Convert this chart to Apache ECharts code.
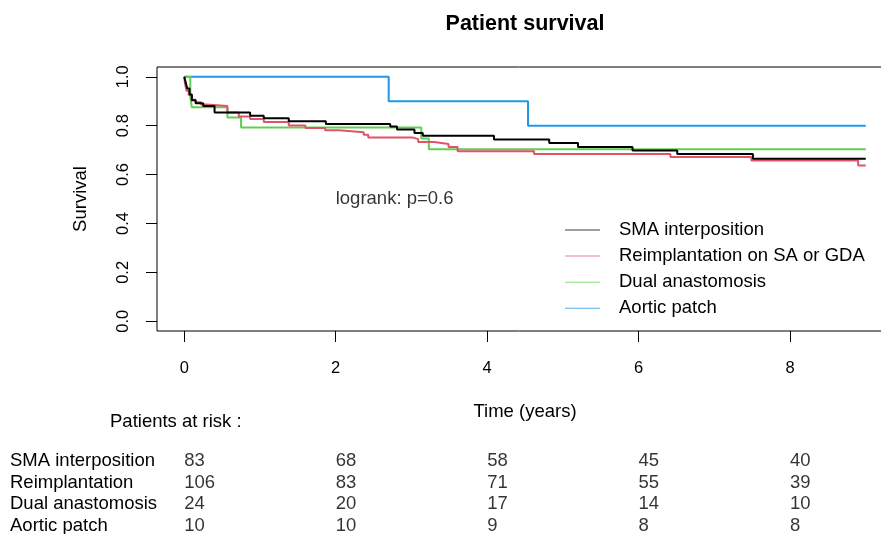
<!DOCTYPE html>
<html>
<head>
<meta charset="utf-8">
<script src="https://cdn.jsdelivr.net/npm/echarts@6/dist/echarts.min.js"></script>
<style>html,body{margin:0;padding:0;background:#fff}#c{width:881px;height:534px}</style>
</head>
<body>
<div id="c"></div>
<script>
// ---- data ----
const groupNames = ['SMA interposition', 'Reimplantation on SA or GDA', 'Dual anastomosis', 'Aortic patch'];
const riskRowNames = ['SMA interposition', 'Reimplantation', 'Dual anastomosis', 'Aortic patch'];
const groupColors = ['#000000', '#DF536B', '#61D04F', '#2297E6'];

// Kaplan-Meier steps: [time (years), survival after that time]
const smaCurve = [[0,1],[0.02,0.976],[0.04,0.952],[0.07,0.928],[0.10,0.904],[0.15,0.892],[0.25,0.880],[0.40,0.854],[0.87,0.841],[1.05,0.830],[1.38,0.818],[1.87,0.807],[2.72,0.797],[2.81,0.784],[3.04,0.770],[3.15,0.759],[4.09,0.743],[4.82,0.729],[5.20,0.713],[5.92,0.698],[6.51,0.684],[7.51,0.665],[9.0,0.665]];
const reimpCurve = [[0,1],[0.01,0.972],[0.03,0.943],[0.06,0.925],[0.10,0.906],[0.15,0.896],[0.22,0.887],[0.29,0.880],[0.57,0.854],[0.72,0.838],[0.87,0.827],[1.05,0.815],[1.38,0.801],[1.60,0.790],[1.86,0.781],[2.04,0.773],[2.37,0.763],[2.43,0.752],[3.01,0.745],[3.09,0.733],[3.30,0.725],[3.49,0.713],[3.61,0.695],[4.62,0.684],[6.42,0.672],[7.49,0.658],[8.90,0.637],[9.0,0.637]];
const dualCurve = [[0,1],[0.08,0.917],[0.10,0.875],[0.57,0.833],[0.75,0.792],[3.13,0.748],[3.23,0.704],[9.0,0.704]];
const aorticCurve = [[0,1],[2.70,0.9],[4.54,0.8],[9.0,0.8]];

const riskTimes = [0, 2, 4, 6, 8];
const riskSMA = [83, 68, 58, 45, 40];
const riskReimp = [106, 83, 71, 55, 39];
const riskDual = [24, 20, 17, 14, 10];
const riskAortic = [10, 10, 9, 8, 8];

const xTicks = [0, 2, 4, 6, 8];
const yTicks = [0, 0.2, 0.4, 0.6, 0.8, 1.0];
const logrankText = 'logrank: p=0.6';
const logrankPos = [2, 0.5];

// ---- chart ----
const FONT = 'Liberation Sans, Arial, sans-serif';
const FS = 18.5, FS_TICK = 16.5;
const curves = [smaCurve, reimpCurve, dualCurve, aorticCurve];
const riskRows = [riskSMA, riskReimp, riskDual, riskAortic];

const xMin = -0.36, xMax = 9.36, yMin = -0.04, yMax = 1.04;

const riskData = [];
riskRows.forEach((row, r) => row.forEach((v, i) => riskData.push([riskTimes[i], r, v])));

const series = curves.map((c, i) => ({
  name: groupNames[i],
  type: 'line',
  step: 'end',
  data: c,
  symbol: 'none',
  color: groupColors[i],
  lineStyle: { width: 2, color: groupColors[i] },
  xAxisIndex: 0, yAxisIndex: 0,
  silent: true,
  animation: false,
  z: 10 - i
}));
series.push({
  type: 'scatter', xAxisIndex: 0, yAxisIndex: 0,
  data: [logrankPos], symbolSize: 0, silent: true, animation: false,
  label: { show: true, position: 'right', distance: 0, formatter: logrankText,
           color: '#000', fontSize: FS, fontFamily: FONT }
});
series.push({
  type: 'scatter', xAxisIndex: 1, yAxisIndex: 1,
  data: riskData, symbolSize: 0, silent: true, animation: false,
  label: { show: true, position: 'right', distance: 0, formatter: p => String(p.value[2]),
           color: '#000', fontSize: FS, fontFamily: FONT }
});

const chart = echarts.init(document.getElementById('c'), null, { renderer: 'canvas' });
chart.setOption({
  animation: false,
  backgroundColor: '#fff',
  textStyle: { fontFamily: FONT },
  grid: [
    { left: 157, top: 67, width: 736, height: 264, show: true, borderColor: '#000', borderWidth: 1,
      backgroundColor: 'transparent', outerBoundsMode: 'none', containLabel: false },
    { left: 157, top: 450, width: 736, height: 87, show: false, outerBoundsMode: 'none', containLabel: false }
  ],
  xAxis: [
    { type: 'value', gridIndex: 0, min: xMin, max: xMax,
      splitLine: { show: false }, axisLine: { show: false, onZero: false },
      axisTick: { show: true, inside: false, length: 11, lineStyle: { color: '#000' }, customValues: xTicks },
      axisLabel: { show: true, margin: 29, fontSize: FS_TICK, color: '#000', fontFamily: FONT, customValues: xTicks, formatter: v => String(v) },
      name: 'Time (years)', nameLocation: 'middle', nameGap: 71,
      nameTextStyle: { fontSize: FS, color: '#000', fontFamily: FONT } },
    { type: 'value', gridIndex: 1, min: xMin, max: xMax, show: false, axisLine: { onZero: false } }
  ],
  yAxis: [
    { type: 'value', gridIndex: 0, min: yMin, max: yMax,
      splitLine: { show: false }, axisLine: { show: false, onZero: false },
      axisTick: { show: true, inside: false, length: 11, lineStyle: { color: '#000' }, customValues: yTicks },
      axisLabel: { show: true, rotate: 90, margin: 25, fontSize: FS_TICK, color: '#000', fontFamily: FONT, customValues: yTicks, formatter: v => v.toFixed(1) },
      name: 'Survival', nameLocation: 'middle', nameGap: 67,
      nameTextStyle: { fontSize: FS, color: '#000', fontFamily: FONT } },
    { type: 'category', gridIndex: 1, data: riskRowNames, inverse: true,
      axisLine: { show: false, onZero: false }, axisTick: { show: false }, splitLine: { show: false },
      axisLabel: { show: true, interval: 0, align: 'left', margin: 147, fontSize: FS, color: '#000', fontFamily: FONT } }
  ],
  legend: {
    data: groupNames,
    orient: 'vertical',
    left: 565, top: 219, padding: 0,
    icon: 'rect',
    itemWidth: 35, itemHeight: 1, itemGap: 4.1,
    itemStyle: { borderWidth: 0, opacity: 0.75 },
    selectedMode: false,
    formatter: name => '{g|}' + name,
    textStyle: { fontSize: FS, color: '#000', fontFamily: FONT, lineHeight: 22,
                 rich: { g: { width: 14 } } }
  },
  graphic: [
    { type: 'text', x: 525, y: 24, style: { text: 'Patient survival', font: 'bold 21.5px ' + FONT, fill: '#000', textAlign: 'center', textVerticalAlign: 'middle' } },
    { type: 'text', x: 110, y: 422, style: { text: 'Patients at risk :', font: FS + 'px ' + FONT, fill: '#000', textAlign: 'left', textVerticalAlign: 'middle' } }
  ],
  series: series
});
</script>
</body>
</html>
